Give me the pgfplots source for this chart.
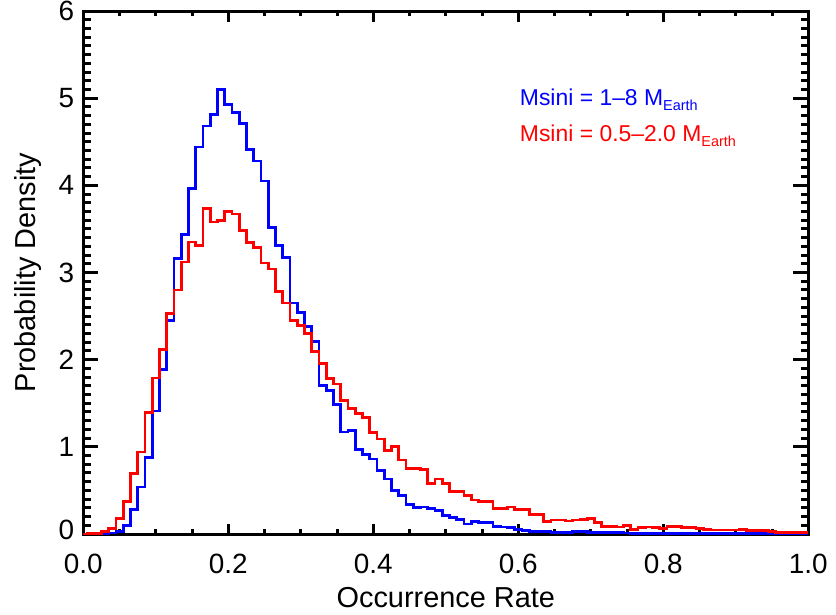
\documentclass[border=0pt]{standalone}
\usepackage{fontspec}
\setmainfont{Liberation Sans}
\usepackage{pgfplots}
\pgfplotsset{compat=1.18}
\usepackage{pgfplotstable}

\pgfplotstableread{
x blue red
0.00 0 0
0.01 0 0.003
0.02 0.003 0.008
0.03 0.006 0.025
0.04 0.012 0.06
0.05 0.03 0.18
0.06 0.095 0.37
0.07 0.28 0.69
0.08 0.54 0.94
0.09 0.88 1.39
0.10 1.41 1.79
0.11 1.89 2.12
0.12 2.45 2.53
0.13 3.16 2.80
0.14 3.44 3.12
0.15 3.96 3.35
0.16 4.44 3.31
0.17 4.68 3.73
0.18 4.81 3.58
0.19 5.10 3.60
0.20 4.93 3.70
0.21 4.84 3.67
0.22 4.71 3.48
0.23 4.41 3.34
0.24 4.28 3.29
0.25 4.05 3.11
0.26 3.52 3.04
0.27 3.31 2.78
0.28 3.17 2.65
0.29 2.65 2.45
0.30 2.54 2.39
0.31 2.38 2.30
0.32 2.21 2.09
0.33 1.70 1.96
0.34 1.65 1.78
0.35 1.49 1.72
0.36 1.17 1.53
0.37 1.19 1.44
0.38 0.97 1.38
0.39 0.91 1.34
0.40 0.86 1.16
0.41 0.73 1.09
0.42 0.63 0.96
0.43 0.50 1.00
0.44 0.44 0.85
0.45 0.34 0.75
0.46 0.30 0.75
0.47 0.31 0.74
0.48 0.29 0.58
0.49 0.27 0.63
0.50 0.21 0.58
0.51 0.19 0.49
0.52 0.17 0.49
0.53 0.115 0.44
0.54 0.14 0.39
0.55 0.13 0.37
0.56 0.13 0.37
0.57 0.085 0.29
0.58 0.08 0.29
0.59 0.075 0.31
0.60 0.055 0.28
0.61 0.04 0.28
0.62 0.028 0.22
0.63 0.025 0.22
0.64 0.028 0.14
0.65 0.02 0.16
0.66 0.02 0.16
0.67 0.02 0.15
0.68 0.025 0.16
0.69 0.027 0.17
0.70 0.02 0.18
0.71 0.02 0.13
0.72 0.015 0.09
0.73 0.015 0.09
0.74 0.015 0.08
0.75 0.012 0.10
0.76 0.01 0.055
0.77 0.01 0.075
0.78 0.01 0.08
0.79 0.008 0.075
0.80 0.008 0.06
0.81 0.006 0.085
0.82 0.006 0.085
0.83 0.005 0.075
0.84 0.005 0.07
0.85 0.005 0.06
0.86 0.004 0.05
0.87 0.004 0.045
0.88 0.004 0.045
0.89 0.003 0.045
0.90 0.003 0.045
0.91 0.003 0.05
0.92 0.003 0.04
0.93 0.002 0.04
0.94 0.002 0.04
0.95 0.002 0.03
0.96 0.002 0.02
0.97 0.002 0.02
0.98 0.001 0.02
0.99 0.001 0.015
1.00 0.001 0.015
}\datatable

\begin{document}
\begin{tikzpicture}
\useasboundingbox (-83.3bp,-81bp) rectangle (752.7bp,534bp);
\begin{axis}[
  at={(0,0)}, anchor=south west,
  scale only axis, width=725bp, height=523bp,
  xmin=0, xmax=1, ymin=0, ymax=6,
  xtick={0,0.2,0.4,0.6,0.8,1},
  xticklabels={0.0,0.2,0.4,0.6,0.8,1.0},
  ytick={0,1,2,3,4,5,6},
  yticklabels={\raisebox{8bp}{0},1,2,3,4,5,\raisebox{-10.5bp}{6}},
  minor x tick num=3, minor y tick num=9,
  tick align=inside,
  axis line style={line width=3bp},
  every tick/.style={black, line width=3bp},
  xtick style={/pgfplots/major tick length=10.5bp, /pgfplots/minor tick length=5bp},
  ytick style={/pgfplots/major tick length=15bp, /pgfplots/minor tick length=7.5bp},
  ticklabel style={font=\fontsize{28}{30}\selectfont},
  xticklabel style={anchor=base, yshift=-39bp},
  yticklabel style={inner sep=0pt, xshift=-9bp},
  xlabel={Occurrence Rate},
  ylabel={Probability Density},
  label style={font=\fontsize{29}{31}\selectfont},
  xlabel style={at={(axis description cs:0.5,-0.1396)}, anchor=base},
  ylabel style={at={(axis description cs:-0.0666,0.5)}, anchor=base},
]
\addplot[blue, line width=2.8bp, const plot mark mid] table[x=x,y=blue]{\datatable};
\addplot[red, line width=2.8bp, const plot mark mid] table[x=x,y=red]{\datatable};
\node[anchor=base west, text=blue, font=\fontsize{23}{24}\selectfont, inner sep=0pt] at (axis cs:0.602,4.92) {Msini = 1–8 M\raisebox{-5bp}{\fontsize{14.5}{14.5}\selectfont Earth}};
\node[anchor=base west, text=red, font=\fontsize{23}{24}\selectfont, inner sep=0pt] at (axis cs:0.602,4.50) {Msini = 0.5–2.0 M\raisebox{-5bp}{\fontsize{14.5}{14.5}\selectfont Earth}};
\end{axis}
\end{tikzpicture}
\end{document}
